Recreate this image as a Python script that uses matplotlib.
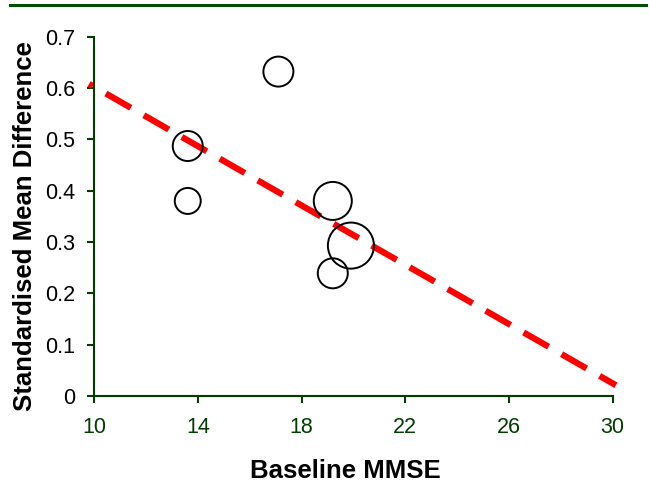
import matplotlib
matplotlib.use("Agg")
import matplotlib.pyplot as plt
from matplotlib.lines import Line2D
import numpy as np

plt.rcParams['font.family'] = ['Liberation Sans', 'DejaVu Sans']

# study data: baseline MMSE vs standardised mean difference, bubble = weight
mmse = [17.1, 13.6, 13.6, 19.2, 19.9, 19.2]
smd = [0.632, 0.487, 0.380, 0.380, 0.293, 0.239]
weights = [467, 467, 350, 750, 1100, 467]

# meta-regression line
fit_x = [9.79, 30.13]
fit_y = [0.608, 0.021]

green = "#003d00"

fig = plt.figure(figsize=(6.49, 4.95), dpi=100)
ax = fig.add_axes([0.1456, 0.2, 0.7982, 0.7259])

ax.plot(fit_x, fit_y, color="red", lw=4.5, linestyle=(3.9, (4.6, 2.4)), clip_on=False, zorder=2)
ax.scatter(mmse, smd, s=weights, facecolors="none", edgecolors="black", linewidths=1.4, zorder=3, clip_on=False)

ax.set_xlim(10, 30)
ax.set_ylim(0, 0.7)
ax.set_xticks([10, 14, 18, 22, 26, 30])
ax.set_yticks(np.arange(0, 0.71, 0.1))
ax.set_yticklabels(["0", "0.1", "0.2", "0.3", "0.4", "0.5", "0.6", "0.7"])

for s in ["top", "right"]:
    ax.spines[s].set_visible(False)
for s in ["left", "bottom"]:
    ax.spines[s].set_color(green)
    ax.spines[s].set_linewidth(1.5)

ax.tick_params(axis="x", colors=green, labelsize=15.5, length=5, width=1.5, pad=10)
ax.tick_params(axis="y", color=green, labelcolor="black", labelsize=15.5, length=5, width=1.5, pad=9)

ax.set_xlabel("Baseline MMSE", fontsize=18.5, fontweight="bold")
ax.set_ylabel("Standardised Mean Difference", fontsize=18.5, fontweight="bold")
ax.xaxis.set_label_coords(0.484, -0.175)
ax.yaxis.set_label_coords(-0.111, 0.4735)

# green rule across the top
fig.add_artist(Line2D([0.015, 0.995], [0.99, 0.99], color="#005000", lw=2.2, transform=fig.transFigure))

fig.savefig("out.png", dpi=100)
